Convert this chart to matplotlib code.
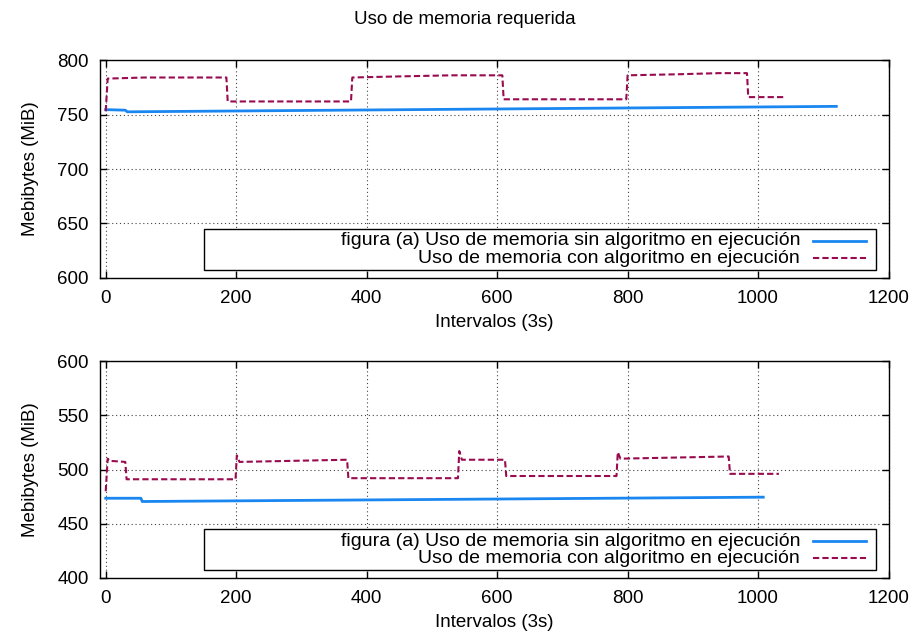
import numpy as np
import matplotlib.pyplot as plt
from matplotlib.patches import Rectangle
from matplotlib.lines import Line2D

plt.rcParams['font.family'] = ['Liberation Sans', 'DejaVu Sans']
plt.rcParams['font.size'] = 13.5

# top chart (a)
sin_a_x = [0, 30, 33, 1120]
sin_a_y = [754.5, 754.0, 752.5, 757.5]
con_a_x = [0, 3, 60, 120, 185, 187, 376, 378, 450, 530, 608, 610, 798, 800, 880, 940, 983, 985, 1042]
con_a_y = [753, 783, 784, 784, 784, 762, 762, 784, 785, 786, 786, 764, 764, 786, 787, 788, 788, 766, 766]

# bottom chart
sin_b_x = [0, 54, 56, 1008]
sin_b_y = [473.5, 473.5, 470.5, 474.5]
con_b_x = [0, 3, 6, 30, 32, 199, 201, 205, 370, 372, 540, 542, 546, 612, 614, 783, 785, 789, 955, 957, 1032]
con_b_y = [480, 510, 508, 507, 491, 491, 513, 507, 509, 492, 492, 517, 509, 509, 494, 494, 516, 510, 512, 496, 496]

x_ticks = [0, 200, 400, 600, 800, 1000, 1200]
lbl_sin = 'figura (a) Uso de memoria sin algoritmo en ejecución'
lbl_con = 'Uso de memoria con algoritmo en ejecución'

blue = '#1a86f0'
red = '#990a4f'

fig = plt.figure(figsize=(9.16, 6.39), dpi=100)
fig.text(0.507, 0.970, 'Uso de memoria requerida', ha='center', va='center')

ax1 = fig.add_axes([0.109, 0.565, 0.861, 0.341])
ax2 = fig.add_axes([0.109, 0.0955, 0.861, 0.3395])


def draw(ax, sx, sy, cx, cy, ylim, yticks, rows):
    ax.plot(sx, sy, color=blue, lw=2.0, zorder=3)
    ax.plot(cx, cy, color=red, lw=1.5, ls=(0, (3, 1.5)), zorder=3)
    ax.set_xlim(-9, 1200)
    ax.set_ylim(*ylim)
    ax.set_xticks(x_ticks)
    ax.set_yticks(yticks)
    ax.grid(True, color='#444444', lw=0.8, ls=(0, (1, 2.5)))
    ax.tick_params(direction='in', top=True, right=True, length=5, width=1)
    ax.tick_params(axis='x', pad=9)
    ax.tick_params(axis='y', pad=8)
    ax.set_xlabel('Intervalos (3s)', labelpad=5)
    ax.set_ylabel('Mebibytes (MiB)', labelpad=13)
    for s in ax.spines.values():
        s.set_linewidth(1)
    # legend box like gnuplot
    y0, y1, r1, r2 = rows
    ax.add_patch(Rectangle((0.132, y0), 0.8515, y1 - y0, transform=ax.transAxes,
                           fill=True, facecolor='white', edgecolor='black', lw=1, zorder=5))
    ax.text(0.888, r1, lbl_sin, transform=ax.transAxes, ha='right', va='center', fontsize=14, zorder=6)
    ax.text(0.888, r2, lbl_con, transform=ax.transAxes, ha='right', va='center', fontsize=14, zorder=6)
    ax.add_line(Line2D([0.904, 0.971], [r1, r1], transform=ax.transAxes, color=blue, lw=2.0, zorder=6))
    ax.add_line(Line2D([0.904, 0.971], [r2, r2], transform=ax.transAxes, color=red, lw=1.5,
                       ls=(0, (3, 1.5)), zorder=6))


draw(ax1, sin_a_x, sin_a_y, con_a_x, con_a_y, (600, 800), [600, 650, 700, 750, 800],
     (0.037, 0.225, 0.170, 0.090))
draw(ax2, sin_b_x, sin_b_y, con_b_x, con_b_y, (400, 600), [400, 450, 500, 550, 600],
     (0.037, 0.226, 0.170, 0.090))

fig.savefig('out.png', dpi=100)
